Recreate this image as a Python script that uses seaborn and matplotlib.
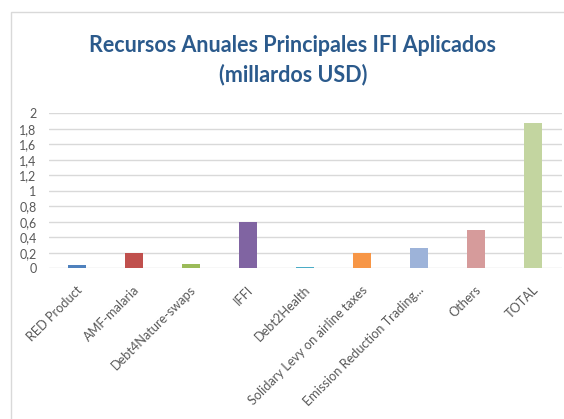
import matplotlib
matplotlib.use("Agg")
import matplotlib.pyplot as plt
import matplotlib.transforms as mtransforms
import seaborn as sns
import pandas as pd
from matplotlib.patches import Rectangle

categories = ["RED Product", "AMF-malaria", "Debt4Nature-swaps", "IFFI", "Debt2Health",
              "Solidary Levy on airline taxes", "Emission Reduction Trading...", "Others", "TOTAL"]
values = [0.04, 0.20, 0.05, 0.60, 0.015, 0.20, 0.26, 0.50, 1.87]
colors = ["#4F81BD", "#C0504D", "#9BBB59", "#8064A2", "#4BACC6",
          "#F79646", "#9DB3D9", "#D69B9B", "#C3D5A0"]
yticks = [0, 0.2, 0.4, 0.6, 0.8, 1, 1.2, 1.4, 1.6, 1.8, 2]
ytick_labels = ["0", "0,2", "0,4", "0,6", "0,8", "1", "1,2", "1,4", "1,6", "1,8", "2"]
title = "Recursos Anuales Principales IFI Aplicados\n(millardos USD)"

sns.set_style("white")
plt.rcParams["font.family"] = ["Lato", "DejaVu Sans"]

W, H = 564, 419
fig = plt.figure(figsize=(W / 100, H / 100), dpi=100)

# chart frame
fig.patches.append(Rectangle((10.5 / W, -0.05), 1.2, (H - 12.5) / H + 0.05,
                             transform=fig.transFigure, fill=False,
                             edgecolor="#D9D9D9", linewidth=1.0))

left, right, top, bottom = 48.5, 561.5, 113.3, 268.3
ax = fig.add_axes([left / W, 1 - bottom / H, (right - left) / W, (bottom - top) / H])

df = pd.DataFrame({"cat": categories, "val": values})
sns.barplot(data=df, x="cat", y="val", hue="cat", palette=colors, width=0.32,
            legend=False, ax=ax, saturation=1, linewidth=0, edgecolor="none")

ax.set_ylim(0, 2)
ax.set_xlim(-0.5, len(categories) - 0.5)
ax.set_yticks(yticks)
ax.set_yticklabels(ytick_labels)
ax.set_xlabel("")
ax.set_ylabel("")
for s in ax.spines.values():
    s.set_visible(False)
ax.yaxis.grid(True, color="#D9D9D9", linewidth=1.0)
ax.set_axisbelow(True)
ax.tick_params(axis="y", length=0, pad=8.5, labelsize=9, labelcolor="#595959")
ax.tick_params(axis="x", length=0, pad=14, labelsize=9.2, labelcolor="#595959")
offset = mtransforms.ScaledTranslation(3 / 100, 0, fig.dpi_scale_trans)
for lab in ax.get_xticklabels():
    lab.set_rotation(45)
    lab.set_ha("right")
    lab.set_va("center")
    lab.set_rotation_mode("anchor")
    lab.set_transform(lab.get_transform() + offset)

fig.text(293 / W, 1 - 60 / H, title, ha="center", va="center", fontsize=15.5,
         fontweight="bold", color="#2B5A8C", linespacing=1.45)

fig.savefig("out.png", dpi=100)
